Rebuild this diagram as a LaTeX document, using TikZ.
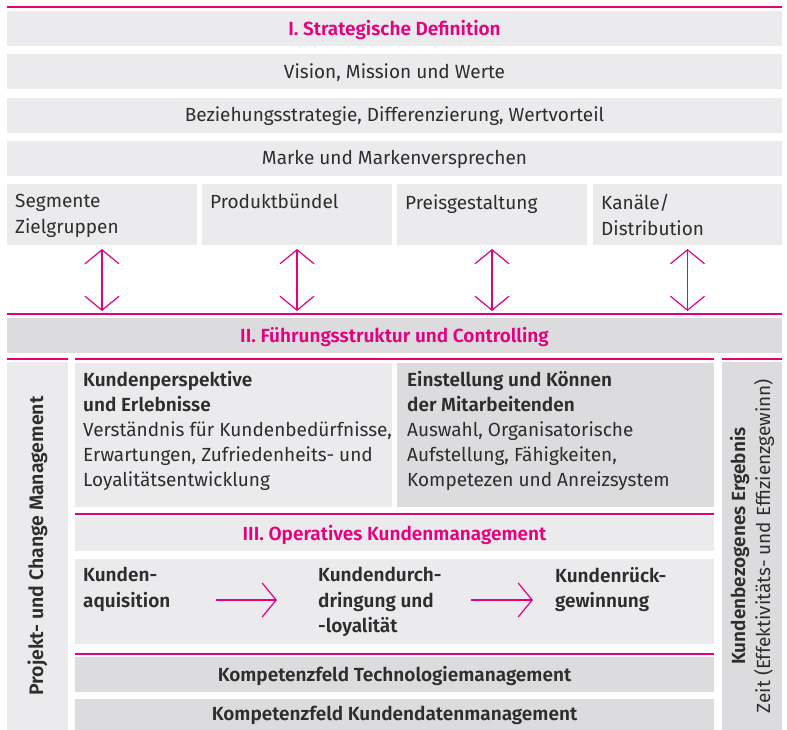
\documentclass[tikz,border=0pt]{standalone}
\usepackage{fontspec}
\setmainfont{Fira Sans}[BoldFont={Fira Sans SemiBold}]
\usetikzlibrary{arrows.meta}
\definecolor{lg}{HTML}{EBEBED}
\definecolor{dg}{HTML}{DCDCDE}
\definecolor{pk}{HTML}{E6007E}
\definecolor{tx}{HTML}{2D2D2D}
\newcommand{\fs}{\fontsize{19}{25}\selectfont}
\begin{document}
\begin{tikzpicture}[x=1pt,y=-1pt,
  box/.style={inner sep=0pt,outer sep=0pt,anchor=north west,draw=none},
  light/.style={box,fill=lg},
  dark/.style={box,fill=dg},
  pline/.style={draw=pk,line width=1.3pt},
  title/.style={text=pk,font=\fs\bfseries,inner sep=0pt},
  plain/.style={text=tx,font=\fs,inner sep=0pt},
  bold/.style={text=tx,font=\fs\bfseries,inner sep=0pt},
  lbl/.style={text=tx,font=\fs,inner sep=0pt,anchor=north west,align=left},
  dbl/.style={draw=pk,line width=1.2pt,{Straight Barb[length=14pt,width=34pt]}-{Straight Barb[length=14pt,width=34pt]}},
  sarr/.style={draw=pk,line width=1.2pt,-{Straight Barb[length=14pt,width=34pt]}}
]
\useasboundingbox (0,0) rectangle (787,730);
% I
\draw[pline] (7,7) -- (782,7);
\node[light,minimum width=775pt,minimum height=35pt] (b1) at (7,11) {};
\node[title] (t1) at ([yshift=-1pt]b1.center) {I. Strategische Definition};
\node[light,minimum width=775pt,minimum height=35pt] (b2) at (7,54) {};
\node[plain] (t2) at ([yshift=-1pt]b2.center) {Vision, Mission und Werte};
\node[light,minimum width=775pt,minimum height=35pt] (b3) at (7,98) {};
\node[plain] (t3) at ([yshift=-1pt]b3.center) {Beziehungsstrategie, Differenzierung, Wertvorteil};
\node[light,minimum width=775pt,minimum height=35pt] (b4) at (7,141) {};
\node[plain] (t4) at ([yshift=-1pt]b4.center) {Marke und Markenversprechen};
% four boxes
\node[light,minimum width=190pt,minimum height=61pt] (s1) at (7,184) {};
\node[light,minimum width=190pt,minimum height=61pt] (s2) at (202,184) {};
\node[light,minimum width=190pt,minimum height=61pt] (s3) at (397,184) {};
\node[light,minimum width=189pt,minimum height=61pt] (s4) at (593,184) {};
\node[lbl,font=\fontsize{19}{26}\selectfont] (l1) at (15,194) {Segmente\\Zielgruppen};
\node[lbl,font=\fontsize{19}{26}\selectfont] (l2) at (210,194) {Produktbündel};
\node[lbl,font=\fontsize{19}{26}\selectfont] (l3) at (405,194) {Preisgestaltung};
\node[lbl,font=\fontsize{19}{26}\selectfont] (l4) at (601,194) {Kanäle/\\Distribution};
% II
\draw[pline] (7,314) -- (782,314);
\node[dark,minimum width=775pt,minimum height=35pt] (f2) at (7,318) {};
\node[title] (tf2) at ([yshift=-1pt]f2.center) {II. Führungsstruktur und Controlling};
\foreach \s in {s1,s2,s3,s4}{
  \draw[dbl,shorten <=4pt,shorten >=7pt] (\s.south) -- (\s.south |- f2.north);
}
% columns
\draw[pline] (7,359) -- (68,359);
\draw[pline] (75,359) -- (714,359);
\draw[pline] (722,359) -- (782,359);
\node[light,minimum width=61pt,minimum height=368pt] (lc) at (7,362) {};
\node[bold,rotate=90,font=\fontsize{19.5}{25}\selectfont\bfseries] (lct) at (lc.center) {Projekt- und Change Management};
\node[dark,minimum width=60pt,minimum height=368pt] (rc) at (722,362) {};
\node[plain,rotate=90,align=center] (rct) at (rc.center) {\textbf{Kundenbezogenes Ergebnis}\\Zeit (Effektivitäts- und Effizienzgewinn)};
% middle boxes
\node[light,minimum width=317pt,minimum height=144pt] (m1) at (75,363) {};
\node[dark,minimum width=317pt,minimum height=144pt] (m2) at (397,363) {};
\node[lbl] (m1t) at (83,371) {\textbf{Kundenperspektive}\\\textbf{und Erlebnisse}\\Verständnis für Kundenbedürfnisse,\\Erwartungen, Zufriedenheits- und\\Loyalitätsentwicklung};
\node[lbl] (m2t) at (407,371) {\textbf{Einstellung und Können}\\\textbf{der Mitarbeitenden}\\Auswahl, Organisatorische\\Aufstellung, Fähigkeiten,\\Kompetezen und Anreizsystem};
% III
\draw[pline] (75,514) -- (714,514);
\node[light,minimum width=639pt,minimum height=34pt] (f3) at (75,517) {};
\node[title] (tf3) at ([yshift=-1pt]f3.center) {III. Operatives Kundenmanagement};
\node[light,minimum width=639pt,minimum height=85pt] (pb) at (75,559) {};
\node[lbl,font=\fontsize{19}{25.5}\selectfont\bfseries] (p1) at (83,567) {Kunden-\\aquisition};
\node[lbl,font=\fontsize{19}{25.5}\selectfont\bfseries] (p2) at (318,567) {Kundendurch-\\dringung und\\-loyalität};
\node[lbl,font=\fontsize{19}{25.5}\selectfont\bfseries] (p3) at (555,567) {Kundenrück-\\gewinnung};
\coordinate (a1s) at (216,600);
\coordinate (a1e) at (277,600);
\coordinate (a2s) at (471,600);
\coordinate (a2e) at (533,600);
\draw[sarr] (a1s) -- (a1e);
\draw[sarr] (a2s) -- (a2e);
% bottom
\draw[pline] (75,654) -- (714,654);
\node[dark,minimum width=639pt,minimum height=35pt] (k1) at (75,657) {};
\node[bold] (k1t) at ([yshift=-1pt]k1.center) {Kompetenzfeld Technologiemanagement};
\node[dark,minimum width=639pt,minimum height=31pt] (k2) at (75,699) {};
\node[bold] (k2t) at ([yshift=-1pt]k2.center) {Kompetenzfeld Kundendatenmanagement};
\end{tikzpicture}
\end{document}
